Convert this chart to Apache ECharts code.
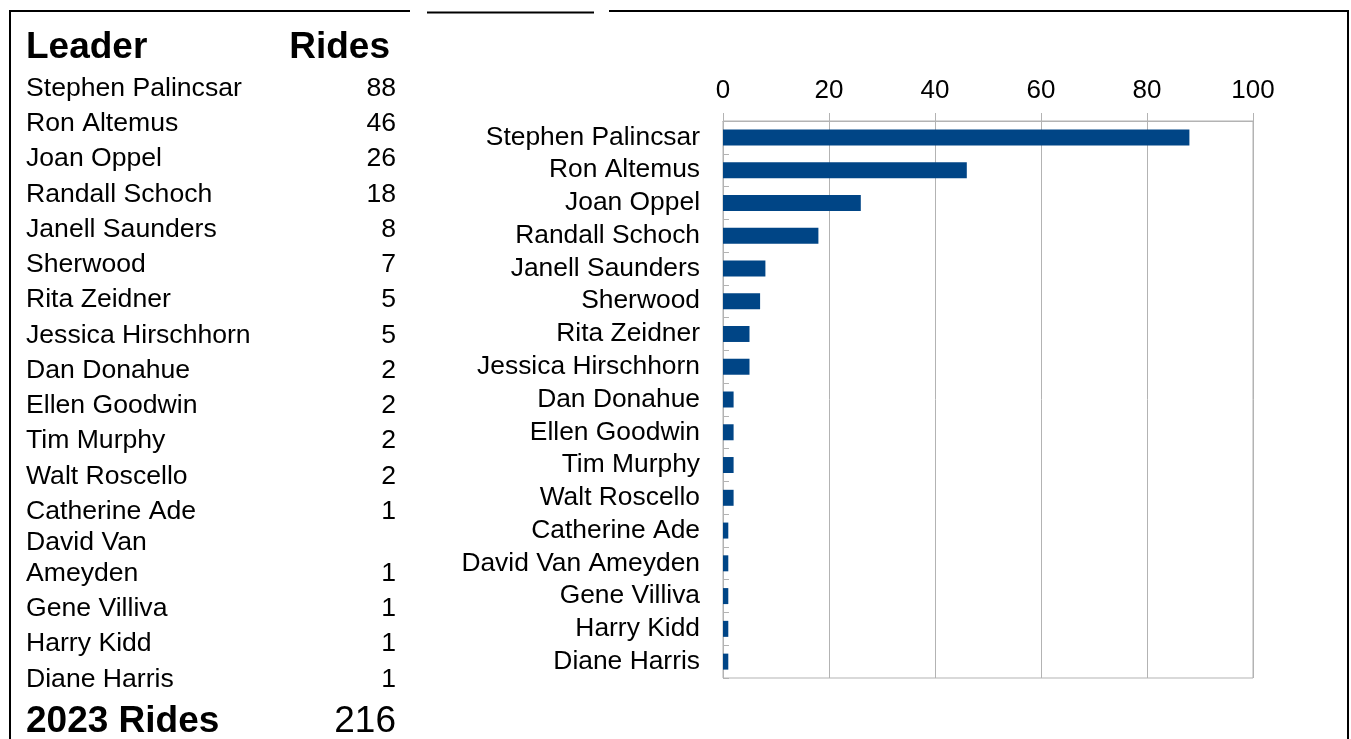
<!DOCTYPE html>
<html>
<head>
<meta charset="utf-8">
<style>
  html, body { margin: 0; padding: 0; background: #ffffff; }
  #chart { width: 1351px; height: 739px; }
</style>
<script src="https://cdn.jsdelivr.net/npm/echarts@6/dist/echarts.min.js"></script>
</head>
<body>
<div id="chart"></div>
<script>
// ---- data ----
const leaders = ["Stephen Palincsar", "Ron Altemus", "Joan Oppel", "Randall Schoch", "Janell Saunders",
  "Sherwood", "Rita Zeidner", "Jessica Hirschhorn", "Dan Donahue", "Ellen Goodwin", "Tim Murphy",
  "Walt Roscello", "Catherine Ade", "David Van Ameyden", "Gene Villiva", "Harry Kidd", "Diane Harris"];
const rides = [88, 46, 26, 18, 8, 7, 5, 5, 2, 2, 2, 2, 1, 1, 1, 1, 1];
const tableHeaders = ["Leader", "Rides"];
const totalLabel = "2023 Rides";
const totalValue = 216;
const xTicks = { min: 0, max: 100, interval: 20 };

// ---- layout / style ----
const FONT = 'Liberation Sans, Arial, sans-serif';
const GRAY = '#b3b3b3';
const BAR = '#004586';
const ROW_FONT = '26.6px ' + FONT;

const canvas = document.createElement('canvas');
const ctx = canvas.getContext('2d');
ctx.font = ROW_FONT;
const nameColWidth = 232;

function wrapWords(text) {
  const words = text.split(' ');
  const lines = [];
  let cur = '';
  words.forEach(w => {
    const test = cur ? cur + ' ' + w : w;
    if (ctx.measureText(test).width > nameColWidth && cur) { lines.push(cur); cur = w; }
    else cur = test;
  });
  if (cur) lines.push(cur);
  return lines;
}

const graphics = [];
const border = (x1, y1, x2, y2) => graphics.push({
  type: 'line', silent: true,
  shape: { x1, y1, x2, y2 },
  style: { stroke: '#000', lineWidth: 2 }
});
border(10, 11, 410, 11);
border(427, 12.5, 594, 12.5);
border(609, 11, 1348, 11);
border(10, 10, 10, 739);
border(1348, 10, 1348, 739);

const txt = (text, x, y, font, align) => graphics.push({
  type: 'text', silent: true, x, y,
  style: { text, font, fill: '#000', align: align || 'left', verticalAlign: 'middle' }
});

txt(tableHeaders[0], 26, 48, 'bold 37px ' + FONT);
txt(tableHeaders[1], 390, 48, 'bold 37px ' + FONT, 'right');

const rowPitch = 35.25, lineGap = 31;
let y = 88.5;
leaders.forEach((name, i) => {
  const lines = wrapWords(name);
  if (lines.length > 1) y = y - rowPitch + lineGap;
  lines.forEach((ln, k) => {
    txt(ln, 26, y + k * lineGap, ROW_FONT);
  });
  const lastY = y + (lines.length - 1) * lineGap;
  txt(String(rides[i]), 396, lastY, ROW_FONT, 'right');
  y = lastY + rowPitch;
});

txt(totalLabel, 26, 722, 'bold 37px ' + FONT);
txt(String(totalValue), 396, 722, '37px ' + FONT, 'right');

const chart = echarts.init(document.getElementById('chart'));
chart.setOption({
  animation: false,
  backgroundColor: '#ffffff',
  textStyle: { fontFamily: FONT },
  grid: {
    left: 723, right: 98, top: 121, bottom: 61,
    show: true, borderColor: GRAY, borderWidth: 1, containLabel: false
  },
  xAxis: {
    type: 'value', position: 'top',
    min: xTicks.min, max: xTicks.max, interval: xTicks.interval,
    axisLine: { show: true, lineStyle: { color: GRAY, width: 1 } },
    axisTick: { show: true, length: 8, lineStyle: { color: GRAY } },
    splitLine: { show: true, lineStyle: { color: GRAY, width: 1 } },
    axisLabel: { color: '#000', fontSize: 26, fontFamily: FONT, margin: 17 }
  },
  yAxis: {
    type: 'category', inverse: true, data: leaders,
    axisLine: { show: true, lineStyle: { color: GRAY, width: 1 } },
    axisTick: { show: true, inside: true, length: 6, interval: 0, lineStyle: { color: GRAY } },
    splitLine: { show: false },
    axisLabel: { color: '#000', fontSize: 26.4, fontFamily: FONT, margin: 23, interval: 0, padding: [3, 0, 0, 0] }
  },
  series: [{
    type: 'bar', data: rides, barWidth: 16,
    itemStyle: { color: BAR }
  }],
  graphic: graphics
});
</script>
</body>
</html>
